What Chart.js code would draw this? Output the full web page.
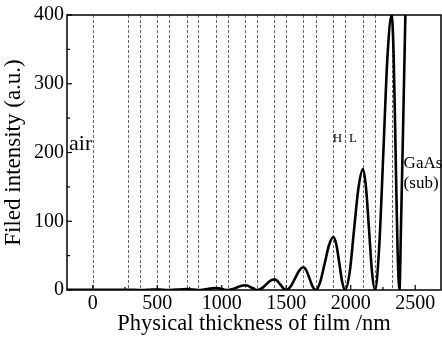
<!DOCTYPE html>
<html>
<head>
<meta charset="utf-8">
<script src="https://cdn.jsdelivr.net/npm/chart.js@4.4.0/dist/chart.umd.min.js"></script>
<style>
  html, body { margin: 0; padding: 0; background: #fff; }
  #wrap { width: 442px; height: 339px; }
</style>
</head>
<body>
<div id="wrap"><canvas id="fieldChart" width="442" height="339"></canvas></div>
<script>
// film thickness (nm) and field intensity (a.u.)
const thickness = [
  -200, 0, 150, 272, 363,
  397, 430, 464, 498, 521, 545, 568, 591,
  626, 660, 695, 729, 751, 773, 795, 817,
  852, 887, 922, 957, 979, 1001, 1023, 1045,
  1079, 1114, 1148, 1182, 1205, 1229, 1252, 1275,
  1308, 1342, 1375, 1408, 1431, 1455, 1478, 1501,
  1534, 1567, 1600, 1633, 1657, 1681, 1705, 1729,
  1763, 1798, 1832, 1866, 1889, 1912, 1934, 1957,
  1992, 2026, 2061, 2095, 2118, 2142, 2165, 2188,
  2220, 2253, 2285, 2318, 2333, 2348, 2363, 2378,
  2390, 2402, 2414, 2426, 2445
];
const intensity = [
  0.3, 0.3, 0.3, 0.3, 0.05,
  0.09, 0.3, 0.51, 0.6, 0.51, 0.3, 0.09, 0.05,
  0.2, 0.65, 1.1, 1.3, 1.1, 0.65, 0.2, 0.05,
  0.45, 1.5, 2.55, 3, 2.55, 1.5, 0.45, 0.05,
  1.05, 3.5, 5.95, 7, 5.95, 3.5, 1.05, 0.05,
  2.3, 7.75, 13.2, 15.5, 13.2, 7.75, 2.3, 0,
  5, 16.5, 28, 33, 28, 16.5, 5, 0,
  11.5, 38.5, 65.5, 77, 65.5, 38.5, 11.5, 0,
  26, 88, 150, 176, 150, 88, 26, 0,
  60, 200, 340, 400, 340, 200, 60, 0,
  95, 200, 310, 420, 620
];
// layer boundaries (dashed lines)
const layerEdges = [0, 272, 363, 498, 591, 729, 817, 957, 1045, 1182, 1275, 1408,
  1501, 1633, 1729, 1866, 1957, 2095, 2188, 2320];
const xTicks = [0, 500, 1000, 1500, 2000, 2500];
const xMinorTicks = [250, 750, 1250, 1750, 2250];
const yTicks = [0, 100, 200, 300, 400];
const yMinorTicks = [50, 150, 250, 350];

const serif = "'Liberation Serif', 'Times New Roman', serif";

const framePlugin = {
  id: 'framePlugin',
  beforeDatasetsDraw(chart) {
    const { ctx, chartArea: a, scales: { x } } = chart;
    ctx.save();
    ctx.strokeStyle = '#666';
    ctx.lineWidth = 1;
    ctx.setLineDash([3, 2]);
    layerEdges.forEach(v => {
      const px = Math.round(x.getPixelForValue(v)) + 0.5;
      ctx.beginPath();
      ctx.moveTo(px, a.top);
      ctx.lineTo(px, a.bottom);
      ctx.stroke();
    });
    ctx.restore();
  },
  afterDatasetsDraw(chart) {
    const { ctx, chartArea: a, scales: { x, y } } = chart;
    ctx.save();
    ctx.strokeStyle = '#000';
    ctx.lineWidth = 1.2;
    // inward ticks
    const tickX = (v, len) => {
      const px = x.getPixelForValue(v);
      ctx.beginPath(); ctx.moveTo(px, a.bottom); ctx.lineTo(px, a.bottom - len); ctx.stroke();
    };
    const tickY = (v, len) => {
      const py = y.getPixelForValue(v);
      ctx.beginPath(); ctx.moveTo(a.left, py); ctx.lineTo(a.left + len, py); ctx.stroke();
    };
    xTicks.forEach(v => tickX(v, 5));
    xMinorTicks.forEach(v => tickX(v, 3));
    yTicks.forEach(v => tickY(v, 5));
    yMinorTicks.forEach(v => tickY(v, 3));
    // frame
    ctx.lineWidth = 1.5;
    ctx.strokeRect(a.left, a.top, a.right - a.left, a.bottom - a.top);
    // region labels
    ctx.fillStyle = '#000';
    ctx.textBaseline = 'alphabetic';
    ctx.textAlign = 'left';
    ctx.font = '22px ' + serif;
    ctx.fillText('air', a.left + 2, y.getPixelForValue(204));
    ctx.font = '13px ' + serif;
    ctx.textAlign = 'center';
    ctx.fillText('H', x.getPixelForValue(1897), y.getPixelForValue(216));
    ctx.fillText('L', x.getPixelForValue(2018), y.getPixelForValue(216));
    ctx.font = '17px ' + serif;
    ctx.textAlign = 'left';
    ctx.fillText('GaAs', x.getPixelForValue(2410), y.getPixelForValue(177));
    ctx.fillText('(sub)', x.getPixelForValue(2410), y.getPixelForValue(148));
    ctx.restore();
  }
};

new Chart(document.getElementById('fieldChart'), {
  type: 'line',
  data: {
    datasets: [{
      data: thickness.map((t, i) => ({ x: t, y: intensity[i] })),
      borderColor: '#000',
      borderWidth: 2.6,
      pointRadius: 0,
      cubicInterpolationMode: 'monotone',
      clip: 0
    }]
  },
  options: {
    responsive: false,
    devicePixelRatio: 1,
    animation: false,
    layout: { padding: { top: 12, right: 1, left: 0, bottom: 0 } },
    plugins: { legend: { display: false }, tooltip: { enabled: false } },
    scales: {
      x: {
        type: 'linear',
        min: -200,
        max: 2700,
        afterBuildTicks: s => { s.ticks = xTicks.map(v => ({ value: v })); },
        afterFit: s => { s.height = 49; },
        grid: { display: false, drawTicks: false },
        border: { display: false },
        ticks: {
          color: '#000', padding: 2, maxRotation: 0,
          font: { family: serif, size: 20 },
          callback: v => String(v)
        },
        title: {
          display: true,
          text: 'Physical thickness of film /nm',
          color: '#000',
          padding: { top: 0, bottom: 1 },
          font: { family: serif, size: 22.5 }
        }
      },
      y: {
        min: 0,
        max: 400,
        afterBuildTicks: s => { s.ticks = yTicks.map(v => ({ value: v })); },
        afterFit: s => { s.width = 67; },
        grid: { display: false, drawTicks: false },
        border: { display: false },
        ticks: {
          color: '#000', padding: 3,
          font: { family: serif, size: 20 },
          callback: v => String(v)
        },
        title: {
          display: true,
          text: 'Filed intensity (a.u.)',
          color: '#000',
          padding: { top: 0, bottom: 0 },
          font: { family: serif, size: 23 }
        }
      }
    }
  },
  plugins: [framePlugin]
});
</script>
</body>
</html>
